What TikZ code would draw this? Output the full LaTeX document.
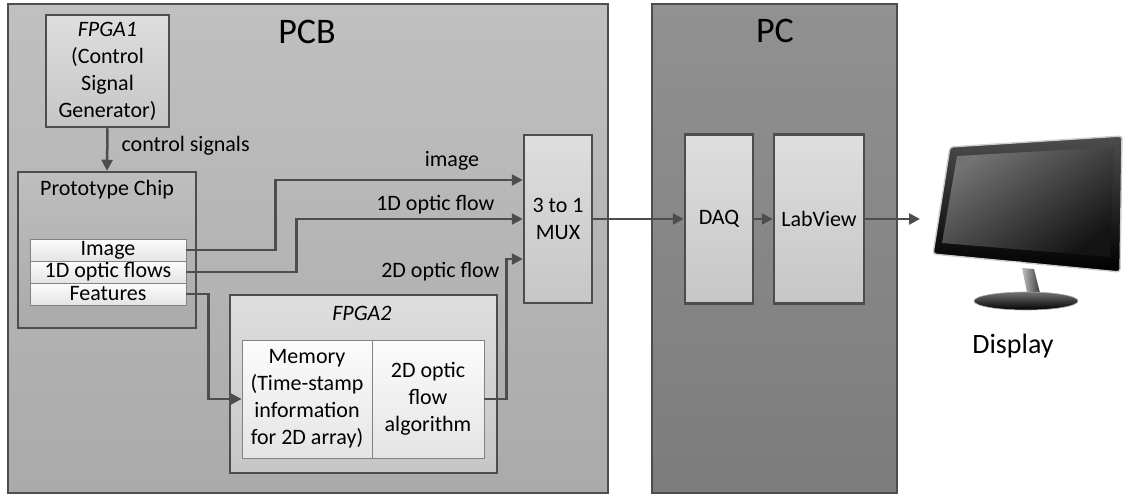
\documentclass[tikz,border=0pt]{standalone}
\usepackage{fontspec}
\setmainfont{Carlito}
\usetikzlibrary{arrows.meta,calc}
\definecolor{edge}{RGB}{77,77,77}
\definecolor{pcbtop}{RGB}{192,192,192}
\definecolor{pcbbot}{RGB}{170,170,170}
\definecolor{pctop}{RGB}{145,145,145}
\definecolor{pcbottom}{RGB}{124,124,124}
\definecolor{lighttop}{RGB}{222,222,222}
\definecolor{lightbot}{RGB}{198,198,198}
\definecolor{chiptop}{RGB}{190,190,190}
\definecolor{chipbot}{RGB}{170,170,170}
\definecolor{celltop}{RGB}{252,252,252}
\definecolor{cellbot}{RGB}{228,228,228}
\begin{document}
\begin{tikzpicture}[x=1pt,y=-1pt,
  every node/.style={font=\fontsize{22}{27}\selectfont, text=black},
  box/.style={draw=edge, line width=2.5pt, inner sep=0pt, align=center,
    shading=axis, shading angle=0},
  panel/.style={box, top color=pcbtop, bottom color=pcbbot},
  pcpanel/.style={box, top color=pctop, bottom color=pcbottom},
  lightbox/.style={box, top color=lighttop, bottom color=lightbot},
  chipbox/.style={box, top color=chiptop, bottom color=chipbot},
  cell/.style={draw=edge!70, line width=0.8pt, inner sep=0pt, align=center,
    top color=celltop, bottom color=cellbot, shading angle=0},
  arr/.style={draw=edge, line width=2.5pt,
    -{Triangle[length=11pt,width=11pt]}},
  title/.style={font=\fontsize{36}{40}\selectfont}
]
\useasboundingbox (0,0) rectangle (1128,496);

% outer panels
\node[panel, minimum width=600pt, minimum height=489pt] (pcb) at (308,248.5) {};
\node[pcpanel, minimum width=245pt, minimum height=489pt] (pc) at (774.5,248.5) {};
\node[title] (pcbtitle) at (307,32) {PCB};
\node[title] (pctitle) at (775,31) {PC};

% control signal generator
\node[lightbox, minimum width=123pt, minimum height=112pt] (fpga1) at (107.5,71)
  {\textit{FPGA1}\\(Control\\Signal\\Generator)};

% prototype chip with its output table
\node[chipbox, minimum width=178pt, minimum height=156pt] (chip) at (107,250) {};
\node (chiptitle) at (107,190) {Prototype Chip};
\node[cell, minimum width=156pt, minimum height=22pt] (img) at (108,250) {Image};
\node[cell, minimum width=156pt, minimum height=22pt] (flw) at (108,272) {1D optic flows};
\node[cell, minimum width=156pt, minimum height=22pt] (feat) at (108,294) {Features};

\draw[arr] (fpga1.south) -- (chip.north);
\node[anchor=west] (ctl) at (118,146) {control signals};

% FPGA2 block
\node[lightbox, minimum width=267pt, minimum height=178pt] (fpga2) at (363.5,384) {};
\node (fpga2title) at (362,313) {\textit{FPGA2}};
\node[cell, minimum width=130pt, minimum height=118pt] (mem) at (307,399)
  {Memory\\(Time-stamp\\information\\for 2D array)};
\node[cell, minimum width=112pt, minimum height=118pt] (alg) at (428,399)
  {2D optic\\flow\\algorithm};

% multiplexer
\node[lightbox, minimum width=68pt, minimum height=168pt] (mux) at (558,219)
  {3 to 1\\MUX};

% PC blocks
\node[lightbox, minimum width=68pt, minimum height=169pt] (daq) at (719,219) {DAQ};
\node[lightbox, minimum width=90pt, minimum height=169pt] (lab) at (819,219) {LabView};

% data paths
\draw[arr] (img.east) -- ++(89,0) |- ($(mux.west)+(0,-39)$);
\draw[arr] (flw.east) -- ++(110,0) |- (mux.west);
\draw[arr] (feat.east) -- ++(22,0) |- (mem.west);
\draw[arr] (alg.east) -- ++(22,0) |- ($(mux.west)+(0,40)$);
\node (limg) at (452,161) {image};
\node[anchor=east] (lflw) at (498,205) {1D optic flow};
\node[anchor=east] (l2d) at (503,272) {2D optic flow};

\draw[arr] (mux.east) -- (daq.west);
\draw[arr] (daq.east) -- (lab.west);
\coordinate (scr) at (920,219);
\draw[arr] (lab.east) -- (scr);

% display: monitor on its stand
\shade[top color=black!70, bottom color=black, draw=black!20, line width=1.4pt,
  rounded corners=3pt]
  (950,147) -- (1122,136) -- (1120,272) -- (933,254) -- cycle;
\shade[left color=black!55, right color=black!92, shading angle=35]
  (957,156) -- (1114,147) -- (1110,257) -- (942,243) -- cycle;
\node[font=\fontsize{3}{3}\selectfont, text=white!80] (logo) at (1015,263) {SAMSUNG};
\shade[left color=black!25, right color=black!80]
  (1022,268) -- (1034,269) -- (1041,297) -- (1028,297) -- cycle;
\shade[top color=black!55, bottom color=black, draw=black!35, line width=0.6pt]
  (1026,301) ellipse [x radius=52, y radius=9];
\node[font=\fontsize{28}{30}\selectfont] (disp) at (1013,346) {Display};
\end{tikzpicture}
\end{document}
